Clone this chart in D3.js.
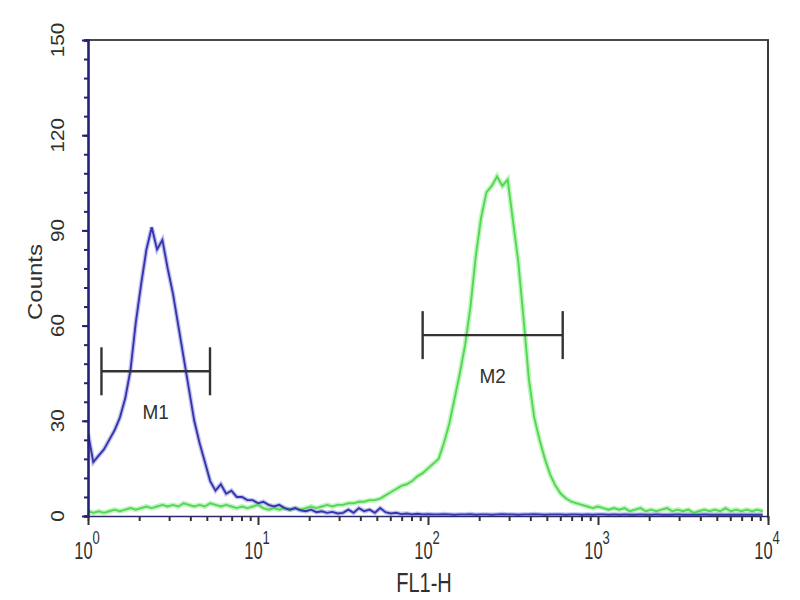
<!DOCTYPE html>
<html>
<head>
<meta charset="utf-8">
<script src="https://cdn.jsdelivr.net/npm/d3@7"></script>
<style>
  html, body { margin: 0; padding: 0; background: #fff; }
  svg { display: block; }
  text { font-family: "Liberation Sans", Arial, sans-serif; fill: #303030; }
</style>
</head>
<body>
<svg id="chart" width="800" height="600"></svg>
<script>
// ---- data (histogram counts per log channel, 32 channels per decade) ----
const binsPerDecade = 32;
const blueCounts = [
  26,17,19,21,24,27,31,37,46,61,73,84,91,84,87,78,70,60,50,40,30,23,17,11,
  8,10,7,8,6,6,5,5,4,4.5,3.5,3,3.5,2.5,2,2.5,1.8,1.5,2,1.2,1.5,1,1.3,0.8,1,
  2,1,2.5,1.5,2,1,2.5,1.2,0.8,1,0.6,0.8,0.5,0.7,0.5,0.6,0.5,0.5,0.6,0.5,
  0.4,0.5,0.5,0.6,0.4,0.5,0.5,0.4,0.5,0.6,0.5,0.5,0.4,0.5,0.5,0.6,0.5,0.4,0.5,0.5,
  0.5,0.4,0.5,0.5,0.4,0.5,0.4,0.5,0.5,0.4,0.5,0.4,0.5,0.4,0.4,0.5,0.4,0.4,0.5,0.4,
  0.4,0.4,0.5,0.4,0.4,0.4,0.4,0.5,0.4,0.4,0.4,0.4,0.4,0.4,0.4,0.4,0.4,0.4,0.4
];
const greenCounts = [
  1.5,1,1.5,1,1.5,2,1.5,2,2.5,2,2.5,3,2.5,3,3.5,3,3.5,3,4,3.5,
  3,3.5,3,4,3.5,3,3.5,3,2.5,3,2.5,3,3.5,2.5,2,2.5,2,2.5,2,2.5,
  2,2.5,3,2.5,3,3.5,3,3.5,
  3.5,4,4,4.5,4.5,5,5,5.5,6.5,7.5,8.5,9.5,10,11,12.5,13.5,15,16.5,18,
  23,29,37,45,54,66,82,94,102,104,107,104,106,93,80,62,43,31,24,18,13,9.5,7,5.5,4.5,4,3.5,
  3,2.5,3,2.5,2,2.5,2,2.5,1.5,2,2.5,1.5,2,1.5,2,2.5,1.5,2,1.5,2,
  1,1.5,2,1.5,2,1.5,2.5,1.5,2,1.5,2,1.5,2,1.5
];
const yTicks = [0, 30, 60, 90, 120, 150];
const xDecades = [0, 1, 2, 3, 4];
const markerNames = ["M1", "M2"];
const markerLo = [1.20, 93];
const markerHi = [5.22, 620];
const markerLevel = [45.6, 57];
const xTitle = "FL1-H";
const yTitle = "Counts";

// ---- layout ----
const svg = d3.select("#chart");
const pL = 88, pR = 768, pT = 40, pB = 516;

const x = d3.scaleLog().domain([1, 10000]).range([pL, pR]);
const y = d3.scaleLinear().domain([0, 150]).range([pB, pT]);

svg.append("defs").append("clipPath").attr("id", "plotclip")
  .append("rect").attr("x", pL).attr("y", pT)
  .attr("width", pR - pL).attr("height", pB - pT + 3);

const toPoints = arr => arr.map((c, i) => [Math.pow(10, i / binsPerDecade), c]);
const line = d3.line().x(d => x(d[0])).y(d => y(d[1]));

const plot = svg.append("g").attr("clip-path", "url(#plotclip)");

plot.append("path").datum(toPoints(greenCounts))
  .attr("d", line).attr("fill", "none")
  .attr("stroke", "#aef0ae").attr("stroke-width", 5).attr("stroke-opacity", 0.75);
plot.append("path").datum(toPoints(blueCounts))
  .attr("d", line).attr("fill", "none")
  .attr("stroke", "#9a9ae6").attr("stroke-width", 4.5).attr("stroke-opacity", 0.6);
plot.append("path").datum(toPoints(greenCounts))
  .attr("d", line).attr("fill", "none")
  .attr("stroke", "#52d852").attr("stroke-width", 1.9);
plot.append("path").datum(toPoints(blueCounts))
  .attr("d", line).attr("fill", "none")
  .attr("stroke", "#3636ac").attr("stroke-width", 1.9);

// ---- frame ----
svg.append("line").attr("x1", pL - 1).attr("x2", pR + 1).attr("y1", pT).attr("y2", pT)
  .attr("stroke", "#4a4a4a").attr("stroke-width", 2.2);
svg.append("line").attr("x1", pR).attr("x2", pR).attr("y1", pT).attr("y2", pB + 2)
  .attr("stroke", "#3a3a3a").attr("stroke-width", 2);

// ---- y axis ----
const gy = svg.append("g").attr("transform", `translate(${pL},0)`)
  .call(d3.axisLeft(y).tickValues(d3.range(0, 151, 6)).tickSize(4).tickFormat(""));
gy.select(".domain").attr("stroke", "#22227a").attr("stroke-width", 2.6);
gy.selectAll(".tick line").attr("stroke", "#22227a").attr("stroke-width", 2);
const gyMaj = svg.append("g").attr("transform", `translate(${pL},0)`)
  .call(d3.axisLeft(y).tickValues(yTicks).tickSize(6).tickFormat(""));
gyMaj.select(".domain").remove();
gyMaj.selectAll(".tick line").attr("stroke", "#22227a").attr("stroke-width", 2);

svg.append("g").selectAll("text").data(yTicks).join("text")
  .attr("transform", d => `translate(64,${y(d)}) rotate(-90) scale(1.15,1)`)
  .attr("text-anchor", "middle")
  .attr("font-size", 18)
  .text(d => d);

svg.append("text")
  .attr("transform", `translate(42,282) rotate(-90) scale(1.2,1)`)
  .attr("text-anchor", "middle").attr("font-size", 20)
  .text(yTitle);

// ---- x axis ----
const minorVals = [];
xDecades.slice(0, -1).forEach(e => {
  for (let k = 2; k <= 9; k++) minorVals.push(k * Math.pow(10, e));
});
const gx = svg.append("g").attr("transform", `translate(0,${pB})`)
  .call(d3.axisBottom(x).tickValues(minorVals).tickSize(5).tickFormat(""));
gx.select(".domain").attr("stroke", "#2a2a6a").attr("stroke-width", 1.5);
gx.selectAll(".tick line").attr("stroke", "#333").attr("stroke-width", 2);
const gxMaj = svg.append("g").attr("transform", `translate(0,${pB})`)
  .call(d3.axisBottom(x).tickValues(xDecades.map(e => Math.pow(10, e))).tickSize(9).tickFormat(""));
gxMaj.select(".domain").remove();
gxMaj.selectAll(".tick line").attr("stroke", "#333").attr("stroke-width", 2);

const xl = svg.append("g").selectAll("text").data(xDecades).join("text")
  .attr("transform", d => `translate(${x(Math.pow(10, d)) - 1},559) scale(1,1.4)`)
  .attr("text-anchor", "middle")
  .attr("font-size", 16.5);
xl.append("tspan").text("10");
xl.append("tspan").attr("dy", -11).attr("font-size", 13).text(d => d);

svg.append("text")
  .attr("transform", `translate(424,592) scale(1,1.38)`)
  .attr("text-anchor", "middle").attr("font-size", 20)
  .text(xTitle);

// ---- markers ----
const mk = svg.append("g");
markerNames.forEach((name, i) => {
  const x1 = x(markerLo[i]), x2 = x(markerHi[i]), yy = y(markerLevel[i]);
  const g = mk.append("g").attr("stroke", "#333").attr("stroke-width", 2.4);
  g.append("line").attr("x1", x1).attr("x2", x2).attr("y1", yy).attr("y2", yy);
  g.append("line").attr("x1", x1).attr("x2", x1).attr("y1", yy - 24).attr("y2", yy + 24);
  g.append("line").attr("x1", x2).attr("x2", x2).attr("y1", yy - 24).attr("y2", yy + 24);
  const cx = x(Math.sqrt(markerLo[i] * markerHi[i]));
  mk.append("text")
    .attr("transform", `translate(${cx},${yy + 48}) scale(1,1.1)`)
    .attr("text-anchor", "middle").attr("font-size", 19).text(name);
});
</script>
</body>
</html>
